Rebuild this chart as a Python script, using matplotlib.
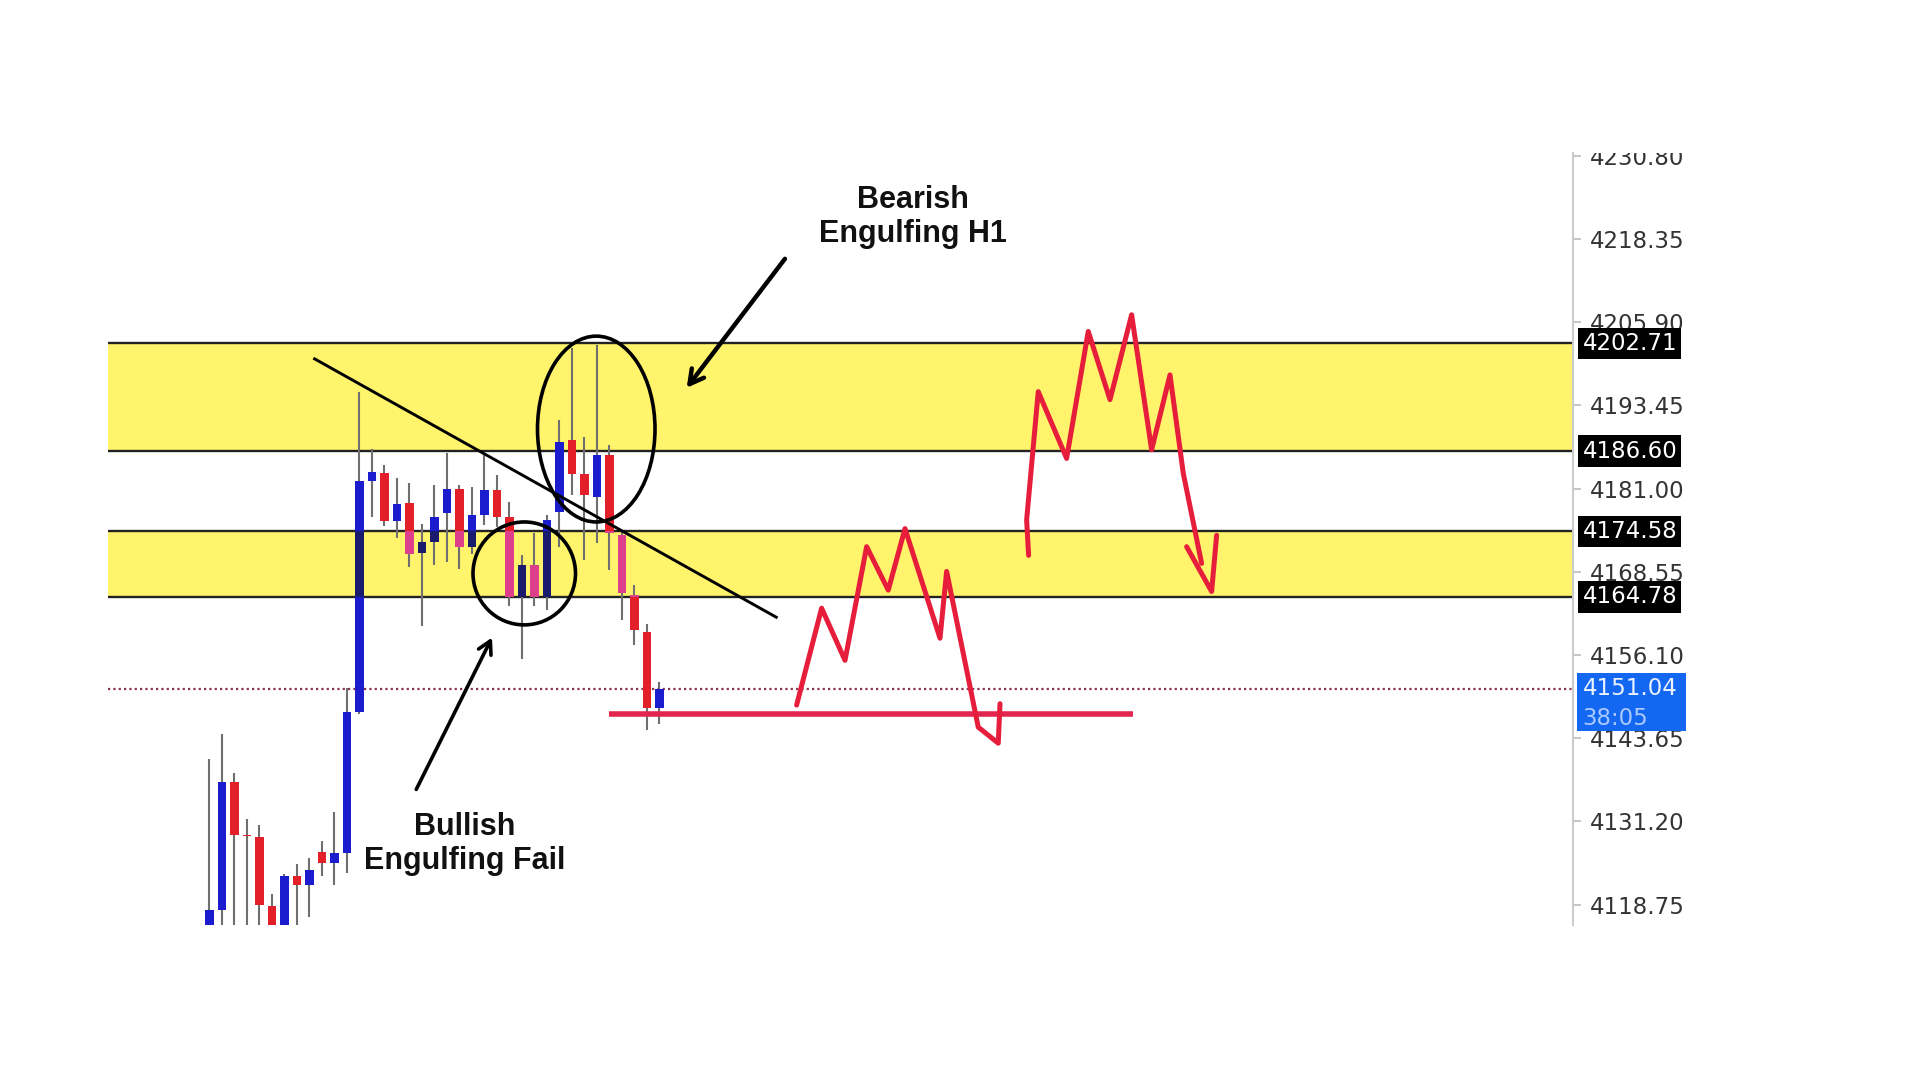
import matplotlib.pyplot as plt
from matplotlib.patches import Ellipse, Rectangle
from matplotlib.transforms import Bbox

# candles (H1), index 0 = first visible candle
opens = [4112.0, 4118.0, 4137.1, 4129.2, 4128.9, 4118.5, 4112.0, 4123.0, 4121.7, 4126.6,
         4125.0, 4126.5, 4147.5, 4182.2, 4183.3, 4176.2, 4178.9, 4171.4, 4173.0, 4177.3,
         4181.0, 4172.2, 4177.0, 4180.8, 4176.8, 4164.8, 4169.5, 4164.8, 4177.5, 4188.2,
         4183.2, 4179.7, 4186.0, 4174.0, 4165.0, 4159.6, 4148.1]
highs = [4140.6, 4144.3, 4138.4, 4131.5, 4130.7, 4120.3, 4123.4, 4124.9, 4125.7, 4128.2,
         4132.6, 4151.2, 4195.4, 4186.9, 4184.5, 4182.6, 4181.8, 4175.7, 4181.5, 4186.3,
         4181.5, 4181.3, 4186.0, 4183.0, 4179.0, 4171.0, 4174.3, 4177.0, 4191.2, 4202.0,
         4188.7, 4202.5, 4187.5, 4174.8, 4166.5, 4160.8, 4152.0]
lows = [4110.0, 4110.0, 4110.0, 4110.0, 4110.0, 4110.0, 4110.0, 4112.0, 4116.9, 4123.0,
        4121.7, 4123.5, 4147.2, 4176.8, 4175.4, 4173.6, 4169.3, 4160.5, 4169.6, 4170.0,
        4169.0, 4171.2, 4175.5, 4175.3, 4163.5, 4155.5, 4163.5, 4162.8, 4172.3, 4180.0,
        4170.3, 4172.8, 4168.8, 4161.3, 4157.6, 4144.8, 4145.8]
closes = [4118.0, 4137.1, 4129.1, 4129.0, 4118.7, 4112.0, 4123.0, 4121.7, 4123.9, 4125.0,
          4126.5, 4147.5, 4182.1, 4183.5, 4176.2, 4178.7, 4171.2, 4173.0, 4176.8, 4181.0,
          4172.2, 4177.0, 4180.8, 4176.8, 4164.8, 4169.5, 4164.8, 4176.3, 4188.0, 4183.2,
          4180.0, 4186.0, 4174.3, 4165.3, 4159.8, 4148.1, 4151.04]

zones = [(4186.60, 4202.71), (4164.78, 4174.58)]
zone_levels = [4202.71, 4186.60, 4174.58, 4164.78]
tick_values = [4230.80, 4218.35, 4205.90, 4193.45, 4181.00, 4168.55,
               4156.10, 4143.65, 4131.20, 4118.75]
last_price = 4151.04
countdown = "38:05"
support_level = 4147.25
support_from, support_to = 31.95, 73.9

trend_x = [8.43, 45.36]
trend_y = [4200.4, 4161.75]

# hand drawn scenario paths
path1_x = [46.99, 48.99, 50.86, 52.59, 54.32, 55.66, 58.46, 58.99, 61.52, 63.12, 63.26]
path1_y = [4148.6, 4163.1, 4155.3, 4172.3, 4165.8, 4175.0, 4158.6, 4168.6, 4145.3, 4142.9, 4148.8]
path2_x = [65.55, 65.39, 66.32, 68.59, 70.32, 72.06, 73.79, 75.39, 76.86, 77.92, 79.39]
path2_y = [4171.0, 4176.3, 4195.5, 4185.5, 4204.5, 4194.3, 4207.0, 4186.8, 4198.0, 4183.3, 4169.8]
head2_x = [78.19, 80.19, 80.59]
head2_y = [4172.3, 4165.6, 4174.0]

RED, BLUE = "#e3202a", "#1c1ccf"
PINK, NAVY = "#de3f8c", "#1b1b6e"
YELLOW = "#fff46c"

fig = plt.figure(figsize=(19.2, 10.8), dpi=100)
ax = fig.add_axes([108 / 1920, 1 - 925 / 1080, 1465 / 1920, 772 / 1080])
ax.set_xlim(-8.1, 109.1)
ax.set_ylim(4115.7, 4231.2)

for lo, hi in zones:
    ax.axhspan(lo, hi, color=YELLOW, zorder=0, lw=0)
for lv in zone_levels:
    ax.axhline(lv, color="#222222", lw=1.7, zorder=1)

ax.axhline(last_price, color="#8a3550", lw=1.6, ls=(0, (1, 1.4)), zorder=1.5)

xs = list(range(len(opens)))
up = [c >= o for o, c in zip(opens, closes)]
ax.vlines(xs, lows, highs, color="#6f6f6f", lw=1.5, zorder=2)
ax.bar(xs, [c - o for o, c in zip(opens, closes)], bottom=opens, width=0.68,
       color=[BLUE if u else RED for u in up], zorder=3)

# candles look darker inside the lower zone
zlo, zhi = zones[1]
for i, (o, c) in enumerate(zip(opens, closes)):
    b0 = max(min(o, c), zlo)
    b1 = min(max(o, c), zhi)
    if b1 > b0:
        ax.bar(i, b1 - b0, bottom=b0, width=0.68, color=NAVY if up[i] else PINK, zorder=3.1)

ax.plot(trend_x, trend_y, color="black", lw=2.1, zorder=4)
ax.add_patch(Ellipse((30.96, 4189.9), 9.4, 27.8, fill=False, ec="black", lw=2.6, zorder=4))
ax.add_patch(Ellipse((25.2, 4168.3), 8.2, 15.4, fill=False, ec="black", lw=2.6, zorder=4))

ax.hlines(support_level, support_from, support_to, color="#e3264f", lw=4.0, zorder=4)
for px, py in [(path1_x, path1_y), (path2_x, path2_y), (head2_x, head2_y)]:
    ax.plot(px, py, color="#e61e3c", lw=3.6, solid_joinstyle="round",
            solid_capstyle="round", zorder=5)

ax.annotate("", xy=(38.06, 4195.74), xytext=(46.19, 4215.7),
            arrowprops=dict(arrowstyle="->,head_length=1.0,head_width=0.55",
                            color="black", lw=3.2), zorder=6)
ax.annotate("", xy=(22.72, 4159.07), xytext=(16.46, 4135.61),
            arrowprops=dict(arrowstyle="->,head_length=0.9,head_width=0.5",
                            color="black", lw=2.6), zorder=6)

font = ["Liberation Sans", "DejaVu Sans"]
ax.text(56.3, 4221.6, "Bearish\nEngulfing H1", ha="center", va="center",
        fontsize=22, fontweight="bold", family=font, color="#111111", linespacing=1.2)
ax.text(20.4, 4127.8, "Bullish\nEngulfing Fail", ha="center", va="center",
        fontsize=22, fontweight="bold", family=font, color="#111111", linespacing=1.2)

# price scale
for s in ["top", "left", "bottom"]:
    ax.spines[s].set_visible(False)
ax.spines["right"].set_color("#cccccc")
ax.spines["right"].set_linewidth(1.5)
ax.set_xticks([])
ax.yaxis.tick_right()
ax.set_yticks(tick_values, labels=[f"{v:.2f}" for v in tick_values])
ax.tick_params(axis="y", length=6, width=1.2, color="#bbbbbb", pad=6,
               labelsize=16.5, labelcolor="#333333")
clip = Bbox.from_extents(0, 0, 1920, 1080 - 153)
for t in ax.yaxis.get_major_ticks():
    t.label2.set_clip_box(clip)
    t.label2.set_clip_on(True)

yt = ax.get_yaxis_transform()
for lv in zone_levels:
    ax.text(1.0065, lv, f"{lv:.2f}", transform=yt, ha="left", va="center",
            fontsize=16.5, color="white", zorder=7, clip_on=False,
            bbox=dict(boxstyle="square,pad=0.18", fc="black", ec="none"))

ax.add_patch(Rectangle((1.0027, last_price - 6.35), 0.0744, 8.7, transform=yt,
                       fc="#1467f0", ec="none", clip_on=False, zorder=7))
ax.text(1.0065, last_price, f"{last_price:.2f}", transform=yt, ha="left", va="center",
        fontsize=16.5, color="#eaf2ff", zorder=8, clip_on=False)
ax.text(1.0065, last_price - 4.4, countdown, transform=yt, ha="left", va="center",
        fontsize=16.5, color="#a9c8ff", zorder=8, clip_on=False)

fig.savefig("out.png", dpi=100, facecolor="white")
